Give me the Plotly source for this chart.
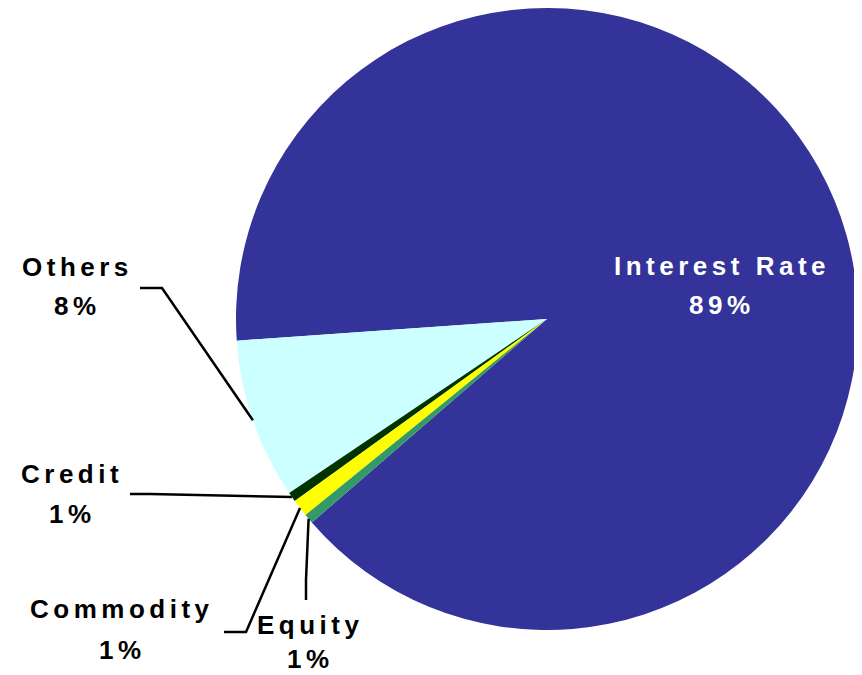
import math
import plotly.graph_objects as go

# ---- data ----
categories = ["Interest Rate", "Others", "Credit", "Commodity", "Equity"]
values = [89.4, 8.3, 0.5, 0.9, 0.5]
colors = ["#333399", "#CCFFFF", "#003300", "#FFFF00", "#339966"]

# page body has an 8px margin: figure is drawn smaller and positions offset
OFF = 8
W, H = 862 - OFF, 675 - OFF
CX, CY, R = 547 - OFF, 319 - OFF, 311   # pie centre / radius (figure px)
ROT = 266                                # clock angle of Interest/Others boundary

def pct(v):
    return f"{int(math.floor(v + 0.5))}%"

fig = go.Figure()
fig.add_trace(go.Pie(
    labels=categories, values=values, sort=False,
    direction="counterclockwise", rotation=ROT,
    marker=dict(colors=colors, line=dict(width=0)),
    textinfo="none", hoverinfo="label+percent", showlegend=False,
    domain=dict(x=[(CX - R) / W, (CX + R) / W],
                y=[1 - (CY + R) / H, 1 - (CY - R) / H]),
))

# slice mid angles (clock degrees) computed from the data
total = sum(values)
ang = [v / total * 360 for v in values]
mid = {}
cur = ROT
for name, a in zip(categories[1:], ang[1:]):
    mid[name] = cur - a / 2
    cur -= a

def rim(name, rr=R):
    t = math.radians(mid[name])
    return CX + rr * math.sin(t), CY - rr * math.cos(t)

FONT = "Liberation Sans, Arial, sans-serif"
LS = 4.5

def txt(s):
    return f'<span style="letter-spacing:{LS}px">{s}</span>'

# label layout (screen px): (name, centre x, baseline of name, baseline of pct, colour)
label_pos = [
    ("Interest Rate", 720, 275, 314, "white"),
    ("Others", 75, 276, 315, "black"),
    ("Credit", 70, 483, 523, "black"),
    ("Commodity", 120, 618, 659, "black"),
    ("Equity", 308, 634, 668, "black"),
]
vals = dict(zip(categories, values))
annotations = []
for name, x, b1, b2, col in label_pos:
    for s, b in ((name, b1), (pct(vals[name]), b2)):
        annotations.append(dict(
            x=x - OFF + LS / 2, y=b - OFF - 9, xref="x", yref="y", text=txt(s),
            showarrow=False, xanchor="center", yanchor="middle", borderpad=0,
            font=dict(family=FONT, size=26, color=col, weight="bold")))

# leader lines (elbows are layout positions in screen px, rim points from data)
elbows = {
    "Others": [(140, 288), (162, 288)],
    "Credit": [(130, 494), (150, 494)],
    "Commodity": [(224, 632), (246, 632)],
    "Equity": [(306, 600), (306, 580)],
}
shapes = []
for name, pts in elbows.items():
    ex, ey = rim(name)
    p = [(a - OFF, b - OFF) for a, b in pts] + [(ex, ey)]
    path = "M " + " L ".join(f"{a:.1f},{b:.1f}" for a, b in p)
    shapes.append(dict(type="path", path=path, xref="x", yref="y",
                       line=dict(color="black", width=2.5)))

fig.update_layout(
    width=W, height=H, margin=dict(l=0, r=0, t=0, b=0),
    paper_bgcolor="white", plot_bgcolor="rgba(0,0,0,0)",
    xaxis=dict(range=[0, W], visible=False, fixedrange=True),
    yaxis=dict(range=[H, 0], visible=False, fixedrange=True),
    annotations=annotations, shapes=shapes,
)
fig.write_html("out.html")
